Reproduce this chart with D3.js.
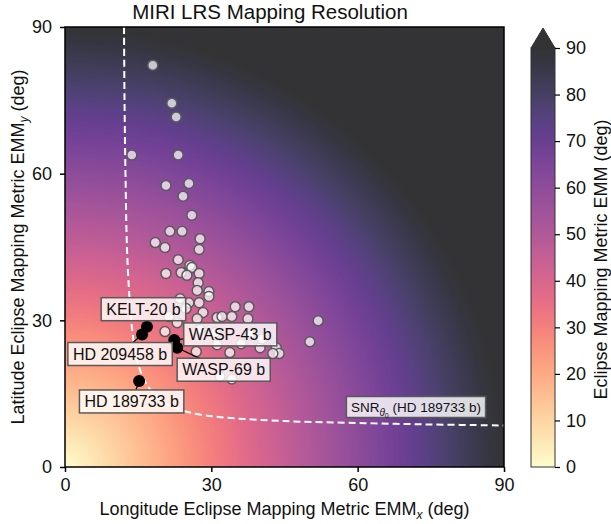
<!DOCTYPE html>
<html><head><meta charset="utf-8">
<script src="https://cdn.jsdelivr.net/npm/d3@7"></script>
<style>body{margin:0;background:#fff} svg{font-family:"Liberation Sans",Arial,Helvetica,sans-serif}</style>
</head><body>
<svg id="c" width="611" height="524"></svg>
<script>
// ---------- data ----------
const title = "MIRI LRS Mapping Resolution";
const axisTicks = [0, 30, 60, 90];
const cbarTicks = [0, 10, 20, 30, 40, 50, 60, 70, 80, 90];

// population of planets (EMMx, EMMy) in deg
const popX = [18.0,13.7,21.9,22.8,23.2,20.7,25.4,24.2,26.0,21.5,24.0,18.5,20.5,27.7,27.5,23.2,25.6,26.0,20.7,23.8,25.0,27.5,27.3,27.1,29.5,29.5,23.6,25.4,27.5,24.8,28.3,34.9,37.7,21.3,23.0,27.1,31.2,32.2,34.2,37.5,51.9,50.2,20.5,26.9,33.8,43.3,43.9,42.6,40.0,36.1,31.2,31.8,34.2,27.7,30.8,37.9,40.4];
const popY = [82.2,63.8,74.4,71.6,63.8,57.6,58.0,55.4,51.5,48.2,48.2,45.9,44.9,46.7,44.5,42.4,41.2,40.8,39.6,39.8,39.2,39.6,37.7,36.1,35.9,34.9,34.4,33.6,33.6,32.4,31.6,32.8,32.8,30.8,29.5,30.3,30.6,30.8,30.8,30.3,29.9,25.6,27.7,23.6,23.4,24.4,23.2,23.2,24.4,25.2,25.0,18.5,18.0,28.1,27.5,27.1,26.2];

// highlighted planets
const hlNames = ["KELT-20 b", "HD 209458 b", "WASP-43 b", "WASP-69 b", "HD 189733 b"];
const hlX = [16.8, 15.8, 22.4, 23.0, 15.2];
const hlY = [28.7, 27.1, 26.0, 24.4, 17.6];

// SNR contour for HD 189733 b
const snrX = [12.1, 12.2, 12.4, 12.7, 13.2, 13.9, 15.0, 17.0, 20.0, 25.0, 32.0, 45.0, 60.0, 75.0, 90.0];
const snrY = [90.0, 75.0, 60.0, 45.0, 35.0, 27.0, 21.0, 16.5, 13.5, 11.3, 10.2, 9.4, 9.0, 8.7, 8.5];

// ---------- layout ----------
const L = 65, R = 504, T = 27, B = 467;
const labelOff = [[-3.5,-17.5],[-22,19.5],[56,-5.5],[46.5,22],[-7.5,20.5]]; // px offsets of label centres
const svg = d3.select("#c");
const x = d3.scaleLinear([0, 90], [L, R]);
const y = d3.scaleLinear([0, 90], [B, T]);
const color = d3.scaleSequential(d3.interpolateMagma).domain([90, 0]);
const ALPHA = 0.8;
function blend(v) {
  const c = d3.rgb(color(Math.min(90, v)));
  return [c.r*ALPHA + 255*(1-ALPHA), c.g*ALPHA + 255*(1-ALPHA), c.b*ALPHA + 255*(1-ALPHA)];
}

// heat map background
const w = R - L, h = B - T;
const cv = document.createElement("canvas");
cv.width = w; cv.height = h;
const ctx = cv.getContext("2d");
const img = ctx.createImageData(w, h);
for (let j = 0; j < h; j++) {
  for (let i = 0; i < w; i++) {
    const xv = x.invert(L + i + 0.5), yv = y.invert(T + j + 0.5);
    const c = blend(Math.hypot(xv, yv));
    const k = (j*w + i)*4;
    img.data[k] = c[0]; img.data[k+1] = c[1]; img.data[k+2] = c[2]; img.data[k+3] = 255;
  }
}
ctx.putImageData(img, 0, 0);
svg.append("image").attr("x", L).attr("y", T).attr("width", w).attr("height", h)
  .attr("preserveAspectRatio", "none").attr("href", cv.toDataURL());

// SNR dashed contour
svg.append("path")
  .datum(snrX.map((d, i) => [d, snrY[i]]))
  .attr("d", d3.line().x(d => x(d[0])).y(d => y(d[1])).curve(d3.curveCatmullRom))
  .attr("fill", "none").attr("stroke", "#fff").attr("stroke-width", 2).attr("stroke-dasharray", "7,4");

// population points
svg.append("g").selectAll("circle").data(popX.map((d, i) => [d, popY[i]])).join("circle")
  .attr("cx", d => x(d[0])).attr("cy", d => y(d[1])).attr("r", 5)
  .attr("fill", "rgba(255,255,255,0.72)").attr("stroke", "#5a5a5a").attr("stroke-width", 1.5);

// highlighted points
svg.append("g").selectAll("circle").data(hlX.map((d, i) => [d, hlY[i]])).join("circle")
  .attr("cx", d => x(d[0])).attr("cy", d => y(d[1])).attr("r", 6).attr("fill", "#000");

// labels
function boxLabel(g, cx, cy, fs, pad, bh, build) {
  const t = g.append("text").attr("x", cx).attr("y", cy).attr("dy", "0.35em")
    .attr("text-anchor", "middle").attr("font-size", fs).attr("fill", "#111");
  build(t);
  const bb = t.node().getBBox();
  const bw = bb.width + pad;
  g.insert("rect", "text").attr("x", cx - bw/2).attr("y", cy - bh/2).attr("width", bw).attr("height", bh)
    .attr("fill", "rgba(255,255,255,0.82)").attr("stroke", "#5a5a5a").attr("stroke-width", 1.5);
  return [cx - bw/2, cy - bh/2, bw, bh];
}
const lg = svg.append("g");
hlNames.forEach((n, i) => {
  const px = x(hlX[i]), py = y(hlY[i]);
  const cx = px + labelOff[i][0], cy = py + labelOff[i][1];
  const g = lg.append("g");
  const b = boxLabel(g, cx, cy, 16, 10, 23, t => t.text(n));
  const dx = px - cx, dy = py - cy;
  const s = Math.min(Math.abs((b[2]/2) / (dx || 1e-9)), Math.abs((b[3]/2) / (dy || 1e-9)));
  if (s < 1) {
    g.insert("line", "rect").attr("x1", px).attr("y1", py).attr("x2", cx + dx*s).attr("y2", cy + dy*s)
      .attr("stroke", "#000").attr("stroke-width", 1.2);
  }
});
boxLabel(lg.append("g"), 416, 407, 13.5, 9, 21, t => {
  t.append("tspan").text("SNR");
  t.append("tspan").attr("font-size", 10).attr("dy", 4).attr("font-style", "italic").text("θ");
  t.append("tspan").attr("font-size", 7).attr("dy", 2).text("0");
  t.append("tspan").attr("dy", -6).text(" (HD 189733 b)");
});

// frame
svg.append("rect").attr("x", L).attr("y", T).attr("width", w).attr("height", h)
  .attr("fill", "none").attr("stroke", "#000").attr("stroke-width", 1.5);

// axes
const FS = 18;
const ax = svg.append("g").attr("transform", `translate(0,${B})`)
  .call(d3.axisBottom(x).tickValues(axisTicks).tickSize(5).tickPadding(6).tickFormat(d3.format("d")));
const ay = svg.append("g").attr("transform", `translate(${L},0)`)
  .call(d3.axisLeft(y).tickValues(axisTicks).tickSize(5).tickPadding(8).tickFormat(d3.format("d")));
[ax, ay].forEach(a => {
  a.select(".domain").remove();
  a.selectAll("line").attr("stroke", "#000").attr("stroke-width", 1.5);
  a.selectAll("text").attr("font-size", FS).attr("fill", "#111").attr("font-family", "Liberation Sans, Arial, sans-serif");
});

// axis titles
const xt = svg.append("text").attr("x", (L+R)/2).attr("y", 515).attr("text-anchor", "middle").attr("font-size", FS).attr("fill", "#111");
xt.append("tspan").text("Longitude Eclipse Mapping Metric EMM");
xt.append("tspan").attr("font-size", 12).attr("font-style", "italic").attr("dy", 4).text("x");
xt.append("tspan").attr("dy", -4).text(" (deg)");
const yt = svg.append("text").attr("transform", `translate(24,${(T+B)/2}) rotate(-90)`).attr("text-anchor", "middle").attr("font-size", FS).attr("fill", "#111");
yt.append("tspan").text("Latitude Eclipse Mapping Metric EMM");
yt.append("tspan").attr("font-size", 12).attr("font-style", "italic").attr("dy", 4).text("y");
yt.append("tspan").attr("dy", -4).text(" (deg)");

// title
svg.append("text").attr("x", 270).attr("y", 19).attr("text-anchor", "middle").attr("font-size", 20.5).attr("fill", "#111").text(title);

// colorbar
const CL = 531, CR = 555, CT = 48;
const cy = d3.scaleLinear([0, 90], [B, CT]);
const grad = svg.append("defs").append("linearGradient").attr("id", "cg")
  .attr("x1", 0).attr("y1", 1).attr("x2", 0).attr("y2", 0);
d3.range(0, 91, 3).forEach(v => {
  const c = blend(v);
  grad.append("stop").attr("offset", v/90).attr("stop-color", d3.rgb(c[0], c[1], c[2]).formatHex());
});
const oc = blend(90);
svg.append("path")
  .attr("d", `M${CL},${CT} L${(CL+CR)/2},${CT-20} L${CR},${CT} Z`)
  .attr("fill", d3.rgb(oc[0], oc[1], oc[2]).formatHex()).attr("stroke", "#333").attr("stroke-width", 1);
svg.append("rect").attr("x", CL).attr("y", CT).attr("width", CR-CL).attr("height", B-CT)
  .attr("fill", "url(#cg)").attr("stroke", "#333").attr("stroke-width", 1);
const ac = svg.append("g").attr("transform", `translate(${CR},0)`)
  .call(d3.axisRight(cy).tickValues(cbarTicks).tickSize(5).tickPadding(6).tickFormat(d3.format("d")));
ac.select(".domain").remove();
ac.selectAll("line").attr("stroke", "#000").attr("stroke-width", 1.2);
ac.selectAll("text").attr("font-size", FS).attr("fill", "#111").attr("font-family", "Liberation Sans, Arial, sans-serif");
svg.append("text").attr("transform", `translate(607,${(CT+B)/2 + 2}) rotate(-90)`).attr("text-anchor", "middle")
  .attr("font-size", FS).attr("fill", "#111").text("Eclipse Mapping Metric EMM (deg)");
</script></body></html>
